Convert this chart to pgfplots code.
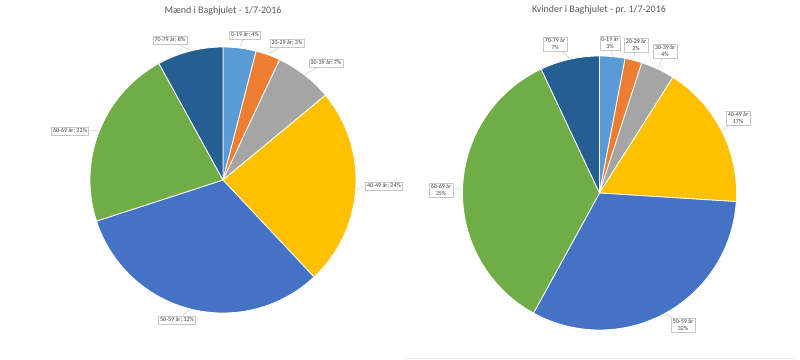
\documentclass[border=0pt]{standalone}
\usepackage{pgfplots}
\pgfplotsset{compat=1.18}
\usepackage{fontspec}
\setmainfont{Carlito}
\definecolor{cA}{HTML}{5B9BD5}
\definecolor{cB}{HTML}{ED7D31}
\definecolor{cC}{HTML}{A5A5A5}
\definecolor{cD}{HTML}{FFC000}
\definecolor{cE}{HTML}{4472C4}
\definecolor{cF}{HTML}{70AD47}
\definecolor{cG}{HTML}{255E91}
\definecolor{ttl}{HTML}{595959}
\definecolor{lbltxt}{HTML}{404040}
\definecolor{lblbrd}{HTML}{C8C8C8}
% #1 cx, #2 cy, #3 r, #4 cumulative start (%), #5 share (%), #6 colour
\newcommand{\slice}[6]{%
  \pgfmathsetmacro\dA{90-3.6*(#4+#5)}%
  \pgfmathsetmacro\dB{90-3.6*(#4)}%
  \edef\tmp{\noexpand\addplot[fill=#6, draw=white, line width=0.8pt, line join=round,
    domain=\dA:\dB, samples=60, variable=\noexpand\t, forget plot]
    ({#1+#3*cos(\noexpand\t)},{#2-#3*sin(\noexpand\t)}) -- (axis cs:#1,#2) -- cycle;}%
  \tmp}
% #1 name, #2 x, #3 y, #4 text, #5 cx, #6 cy, #7 r, #8 mid angle
\newcommand{\lbl}[8]{%
  \node[draw=lblbrd, fill=white, line width=0.5pt, text=lbltxt, font=\fontsize{6}{6.8}\selectfont,
    inner sep=1.6pt, align=center] (#1) at (axis cs:#2,#3) {#4};
  \draw[lblbrd, line width=0.5pt] (#1) -- (axis cs:{#5+(#7+1)*cos(#8)},{#6-(#7+1)*sin(#8)});}
\begin{document}
\begin{tikzpicture}
\begin{axis}[scale only axis, width=800pt, height=359pt,
  xmin=0, xmax=800, ymin=0, ymax=359, y dir=reverse,
  hide axis, clip=false]
\path (axis cs:0,0) rectangle (axis cs:800,359);
% Men: shares in %
\slice{223}{180}{133}{0}{4}{cA}
\slice{223}{180}{133}{4}{3}{cB}
\slice{223}{180}{133}{7}{7}{cC}
\slice{223}{180}{133}{14}{24}{cD}
\slice{223}{180}{133}{38}{32}{cE}
\slice{223}{180}{133}{70}{22}{cF}
\slice{223}{180}{133}{92}{8}{cG}
% Women: shares in %
\slice{599.5}{193}{137}{0}{3}{cA}
\slice{599.5}{193}{137}{3}{2}{cB}
\slice{599.5}{193}{137}{5}{4}{cC}
\slice{599.5}{193}{137}{9}{17}{cD}
\slice{599.5}{193}{137}{26}{32}{cE}
\slice{599.5}{193}{137}{58}{35}{cF}
\slice{599.5}{193}{137}{93}{7}{cG}
% titles
\node[text=ttl, font=\fontsize{10}{12}\selectfont] at (axis cs:223,11) {Mænd i Baghjulet - 1/7-2016};
\node[text=ttl, font=\fontsize{10}{12}\selectfont] at (axis cs:599,10) {Kvinder i Baghjulet - pr. 1/7-2016};
% men labels
\lbl{m1}{245}{35}{0-19 år; 4\%}{223}{180}{133}{82.8}
\lbl{m2}{287}{43}{20-29 år; 3\%}{223}{180}{133}{70.2}
\lbl{m3}{326}{63}{30-39 år; 7\%}{223}{180}{133}{52.2}
\lbl{m4}{384}{186}{40-49 år; 24\%}{223}{180}{133}{-3.6}
\lbl{m5}{177}{320}{50-59 år; 32\%}{223}{180}{133}{-104.4}
\lbl{m6}{70}{131}{60-69 år; 22\%}{223}{180}{133}{158.4}
\lbl{m7}{170}{40}{70-79 år; 8\%}{223}{180}{133}{104.4}
% women labels
\lbl{w1}{610}{43}{0-19 år\\3\%}{599.5}{193}{137}{84.6}
\lbl{w2}{636}{45}{20-29 år\\2\%}{599.5}{193}{137}{75.6}
\lbl{w3}{665}{51}{30-39 år\\4\%}{599.5}{193}{137}{64.8}
\lbl{w4}{738}{118}{40-49 år\\17\%}{599.5}{193}{137}{27}
\lbl{w5}{683}{325}{50-59 år\\32\%}{599.5}{193}{137}{-61.2}
\lbl{w6}{441}{190}{60-69 år\\35\%}{599.5}{193}{137}{178.2}
\lbl{w7}{555}{44}{70-79 år\\7\%}{599.5}{193}{137}{102.6}
\draw[black!8, line width=0.8pt] (axis cs:403,358) -- (axis cs:797,358);
\end{axis}
\end{tikzpicture}
\end{document}
